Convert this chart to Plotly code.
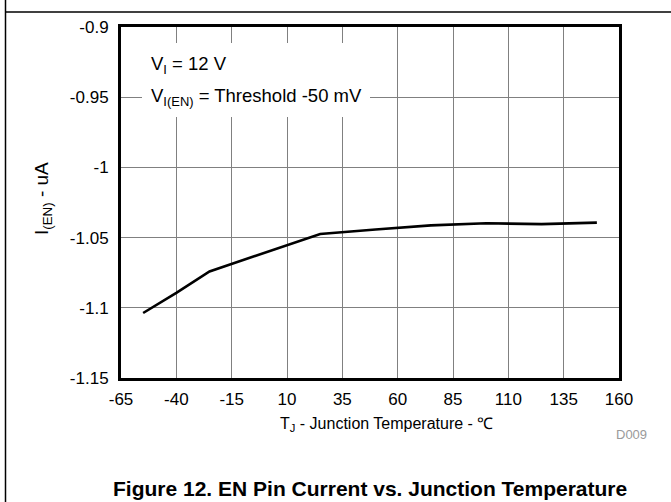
import plotly.graph_objects as go

# Data
temperature_c = [-55, -40, -25, 25, 50, 75, 100, 125, 150]
en_current_ua = [-1.1037, -1.0893, -1.0741, -1.0474, -1.0442, -1.0413, -1.0398, -1.0404, -1.0393]

x_ticks = [-65, -40, -15, 10, 35, 60, 85, 110, 135, 160]
y_ticks = [-0.9, -0.95, -1.0, -1.05, -1.1, -1.15]
y_tick_text = ["-0.9", "-0.95", "-1", "-1.05", "-1.1", "-1.15"]

FIG_W, FIG_H = 671, 502
L, R, T, B = 121, 52, 27, 124
PW, PH = FIG_W - L - R, FIG_H - T - B

def px(x):
    return (x - L) / PW

def py(y):
    return 1 - (y - T) / PH

FONT = "Liberation Sans, Arial, sans-serif"

fig = go.Figure()
fig.add_trace(go.Scatter(
    x=temperature_c, y=en_current_ua, mode="lines",
    line=dict(color="black", width=2.6), showlegend=False,
))

fig.update_layout(
    width=FIG_W, height=FIG_H,
    margin=dict(l=L, r=R, t=T, b=B, pad=0),
    paper_bgcolor="white", plot_bgcolor="white",
    font=dict(family=FONT, color="black", size=17),
    xaxis=dict(
        range=[-65, 160], tickvals=x_ticks, ticktext=[str(v) for v in x_ticks],
        showgrid=True, gridcolor="#808080", gridwidth=1,
        showline=True, linecolor="black", linewidth=3, mirror=True,
        ticks="", zeroline=False, tickfont=dict(size=17),
        ticklabelstandoff=4,
    ),
    yaxis=dict(
        range=[-1.15, -0.9], tickvals=y_ticks, ticktext=y_tick_text,
        showgrid=True, gridcolor="#808080", gridwidth=1,
        showline=True, linecolor="black", linewidth=3, mirror=True,
        ticks="", zeroline=False, tickfont=dict(size=17),
        ticklabelstandoff=6,
    ),
)

shapes = [
    # legend white box over the grid
    dict(type="rect", xref="paper", yref="paper",
         x0=px(142), x1=px(370), y0=py(117), y1=py(43),
         fillcolor="white", line=dict(width=0), layer="above"),
    # outer frame lines
    dict(type="line", xref="paper", yref="paper",
         x0=px(5.5), x1=px(671), y0=py(12), y1=py(12),
         line=dict(color="black", width=1.5)),
    dict(type="line", xref="paper", yref="paper",
         x0=px(5.5), x1=px(5.5), y0=py(0), y1=py(502),
         line=dict(color="black", width=1.5)),
]
fig.update_layout(shapes=shapes)

ann = [
    dict(text="V<sub>I</sub> = 12 V", x=px(149), y=py(65), xanchor="left", yanchor="middle",
         font=dict(size=18.5)),
    dict(text="V<sub>I(EN)</sub> = Threshold -50 mV", x=px(149), y=py(97), xanchor="left",
         yanchor="middle", font=dict(size=18.5)),
    dict(text="I<sub>(EN)</sub> - uA", x=px(43), y=py(199), textangle=-90,
         xanchor="center", yanchor="middle", font=dict(size=19)),
    dict(text="T<sub>J</sub> - Junction Temperature - \u2103", x=px(386), y=py(424),
         xanchor="center", yanchor="middle", font=dict(size=16)),
    dict(text="D009", x=px(649), y=py(434), xanchor="right", yanchor="middle",
         font=dict(size=13, color="#9a9a9a")),
    dict(text="<b>Figure 12. EN Pin Current vs. Junction Temperature</b>", x=px(370), y=py(502),
         xanchor="center", yanchor="bottom", font=dict(size=21)),
]
for a in ann:
    a.update(xref="paper", yref="paper", showarrow=False)
fig.update_layout(annotations=ann)

fig.write_html("out.html")
